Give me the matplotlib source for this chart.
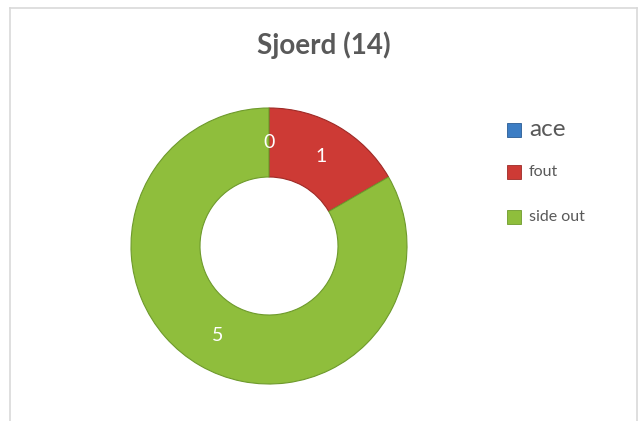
import matplotlib
matplotlib.use("Agg")
import matplotlib.pyplot as plt
from matplotlib.patches import Rectangle
from matplotlib.lines import Line2D
import numpy as np

title = "Sjoerd (14)"
categories = ["ace", "fout", "side out"]
values = [0, 1, 5]
colors = ["#3C7DC4", "#CD3A35", "#8FBE3C"]
edge_colors = ["#2A5C94", "#9E2A26", "#6E9A2C"]
legend_sizes = [17.5, 11.5, 11.5]

W, H = 643, 421
fig = plt.figure(figsize=(W / 100, H / 100), dpi=100)
fig.patch.set_facecolor("white")

# chart border
bc = "#D9D9D9"
fig.add_artist(Line2D([10 / W, 637 / W], [1 - 8 / H, 1 - 8 / H], color=bc, lw=1.2, transform=fig.transFigure))
fig.add_artist(Line2D([10 / W, 10 / W], [0, 1 - 8 / H], color=bc, lw=1.2, transform=fig.transFigure))
fig.add_artist(Line2D([637 / W, 637 / W], [0, 1 - 8 / H], color=bc, lw=1.2, transform=fig.transFigure))

# donut axes: center (269,246), outer radius 138 px
cx, cy, R = 269, 246, 138
ax = fig.add_axes([(cx - R) / W, 1 - (cy + R) / H, 2 * R / W, 2 * R / H])
wedges, _ = ax.pie(values, colors=colors, startangle=90, counterclock=False,
                   radius=1.0, wedgeprops=dict(width=0.5, linewidth=0.8))
for w, ec in zip(wedges, edge_colors):
    w.set_edgecolor(ec)
ax.set_xlim(-1, 1)
ax.set_ylim(-1, 1)
ax.set_aspect("auto")
ax.axis("off")

# data labels
for w, v in zip(wedges, values):
    ang = np.deg2rad((w.theta1 + w.theta2) / 2)
    r = 0.75
    ax.text(r * np.cos(ang), r * np.sin(ang), str(v), color="white",
            fontsize=14, ha="center", va="center", family="Lato")

fig.text(324 / W, 1 - 45 / H, title, ha="center", va="center",
         fontsize=20, fontweight="bold", color="#595959", family="Lato")

# legend
ys = [130, 172, 217]
for c, ec, lab, y, fs in zip(colors, edge_colors, categories, ys, legend_sizes):
    s = 14
    fig.add_artist(Rectangle((507 / W, 1 - (y + s / 2) / H), s / W, s / H,
                             facecolor=c, edgecolor=ec, lw=0.6, transform=fig.transFigure))
    fig.text(529 / W, 1 - y / H, lab, ha="left", va="center", fontsize=fs,
             color="#595959", family="Lato")

fig.savefig("out.png", dpi=100)
